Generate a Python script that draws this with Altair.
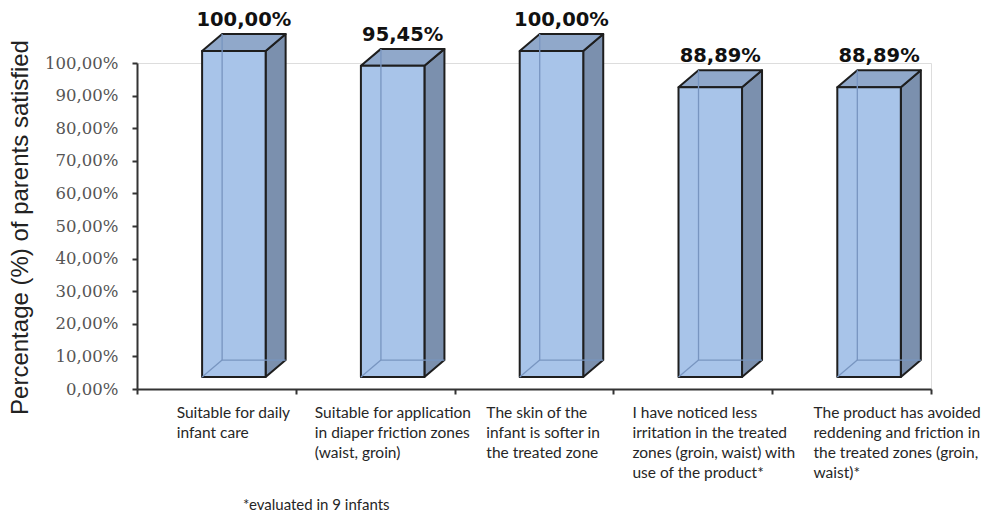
import altair as alt
import pandas as pd

# ---- data -------------------------------------------------------------
categories = [
    "Suitable for daily\ninfant care",
    "Suitable for application\nin diaper friction zones\n(waist, groin)",
    "The skin of the\ninfant is softer in\nthe treated zone",
    "I have noticed less\nirritation in the treated\nzones (groin, waist) with\nuse of the product*",
    "The product has avoided\nreddening and friction in\nthe treated zones (groin,\nwaist)*",
]
satisfied = [100.00, 95.45, 100.00, 88.89, 88.89]
y_title = "Percentage (%) of parents satisfied"
footnote = "*evaluated in 9 infants"

# ---- layout / style ---------------------------------------------------
W, H = 794, 326
BAR_LEFT = 0.41      # front face start inside each category slot
BAR_W = 0.40         # front face width (x units)
DX = 0.126           # box depth, x units
DY = 5.2             # box depth, % units
FLOOR = -12          # pixel lift of the box floor above the axis
label_shift = [0.25, 0.12, 0.20, 0.12, 0.26]

FRONT = "#a8c4e9"
SIDE = "#7b90ae"
TOP = "#90a8ca"
EDGE = "#1e1e1e"
INNER = "#7895c0"


def pct(v):
    return f"{v:.2f}".replace(".", ",") + "%"


front_rows, side_rows, top_rows, inner_rows, value_rows, cat_rows = [], [], [], [], [], []
for i, (cat, v) in enumerate(zip(categories, satisfied)):
    xl = i + BAR_LEFT
    xr = xl + BAR_W
    front_rows.append({"bar": i, "x": xl, "x2": xr, "lo": 0.0, "hi": v})
    side_rows += [
        {"bar": i, "x": xr, "lo": 0.0, "hi": v},
        {"bar": i, "x": xr + DX, "lo": DY, "hi": v + DY},
    ]
    top_rows += [
        {"bar": i, "x": xl, "lo": v, "hi": v},
        {"bar": i, "x": xl + DX, "lo": v, "hi": v + DY},
        {"bar": i, "x": xr, "lo": v, "hi": v + DY},
        {"bar": i, "x": xr + DX, "lo": v + DY, "hi": v + DY},
    ]
    # hidden back edges seen through the translucent box
    inner_rows += [
        {"seg": f"{i}a", "o": 0, "x": xl + DX, "y": v + DY},
        {"seg": f"{i}a", "o": 1, "x": xl + DX, "y": DY},
        {"seg": f"{i}a", "o": 2, "x": xr + DX, "y": DY},
        {"seg": f"{i}b", "o": 0, "x": xl, "y": 0.0},
        {"seg": f"{i}b", "o": 1, "x": xl + DX, "y": DY},
    ]
    value_rows.append({"x": xl + (BAR_W + DX) / 2, "y": v + DY, "label": pct(v)})
    cat_rows.append({"x": i + label_shift[i], "label": cat})

front_df = pd.DataFrame(front_rows)
side_df = pd.DataFrame(side_rows)
top_df = pd.DataFrame(top_rows)
inner_df = pd.DataFrame(inner_rows)
value_df = pd.DataFrame(value_rows)
cat_df = pd.DataFrame(cat_rows)
note_df = pd.DataFrame({"label": [footnote]})

xscale = alt.Scale(domain=[0, 5], nice=False, zero=False)
yscale = alt.Scale(domain=[0, 100], nice=False)

xaxis = alt.Axis(
    values=[0, 1, 2, 3, 4, 5], labels=False, title=None, grid=False,
    tickSize=5, tickColor="#333333", tickWidth=2,
    domainColor="#333333", domainWidth=2,
)
yaxis = alt.Axis(
    values=list(range(0, 101, 10)), grid=False, title=y_title,
    labelExpr="replace(format(datum.value, '.2f'), '.', ',') + '%'",
    labelFont="DejaVu Serif", labelFontSize=16.5, labelColor="#555555",
    labelPadding=14, tickSize=5, tickColor="#333333", tickWidth=2,
    domainColor="#333333", domainWidth=2,
    titleFont="Liberation Sans", titleFontSize=24, titleFontWeight="normal",
    titleColor="#222222", titleAngle=-90, titleX=-117, titleY=164,
    titleAlign="center", titleBaseline="middle",
)

X = lambda f: alt.X(f, type="quantitative", scale=xscale, axis=xaxis)
Y = lambda f: alt.Y(f, type="quantitative", scale=yscale, axis=yaxis)

side = alt.Chart(side_df).mark_area(
    fill=SIDE, stroke=EDGE, strokeWidth=2, strokeJoin="round",
    yOffset=FLOOR, y2Offset=FLOOR, orient="vertical",
).encode(x=X("x"), y=Y("lo"), y2="hi", detail="bar:N")

top = alt.Chart(top_df).mark_area(
    fill=TOP, stroke=EDGE, strokeWidth=2, strokeJoin="round",
    yOffset=FLOOR, y2Offset=FLOOR, orient="vertical",
).encode(x=X("x"), y=Y("lo"), y2="hi", detail="bar:N")

front = alt.Chart(front_df).mark_bar(
    fill=FRONT, stroke=EDGE, strokeWidth=2, strokeJoin="round",
    yOffset=FLOOR, y2Offset=FLOOR,
).encode(x=X("x"), x2="x2", y=Y("lo"), y2="hi")

inner = alt.Chart(inner_df).mark_line(
    color=INNER, strokeWidth=1.3, yOffset=FLOOR,
).encode(x=X("x"), y=Y("y"), detail="seg:N", order="o:Q")

values = alt.Chart(value_df).mark_text(
    font="DejaVu Sans", fontWeight="bold", fontSize=19.5, color="#111111",
    baseline="alphabetic", align="center", dy=FLOOR - 8,
).encode(x=X("x"), y=Y("y"), text="label:N")

cats = alt.Chart(cat_df).mark_text(
    font="Lato", fontSize=15.5, color="#262626", align="left",
    baseline="middle", lineBreak="\n", lineHeight=20,
).encode(x=X("x"), y=alt.value(350), text="label:N")

note = alt.Chart(note_df).mark_text(
    font="Lato", fontSize=15, color="#262626", align="left", baseline="middle",
).encode(x=alt.value(106), y=alt.value(442), text="label:N")

chart = (
    alt.layer(side, top, front, inner, values, cats, note)
    .properties(width=W, height=H, autosize=alt.AutoSizeParams(type="none"),
                padding={"left": 137, "top": 63, "right": 64, "bottom": 125})
    .configure_view(stroke=None)
    .configure(background="white")
)

chart.save("out.html", embed_options={"renderer": "svg", "actions": False})
